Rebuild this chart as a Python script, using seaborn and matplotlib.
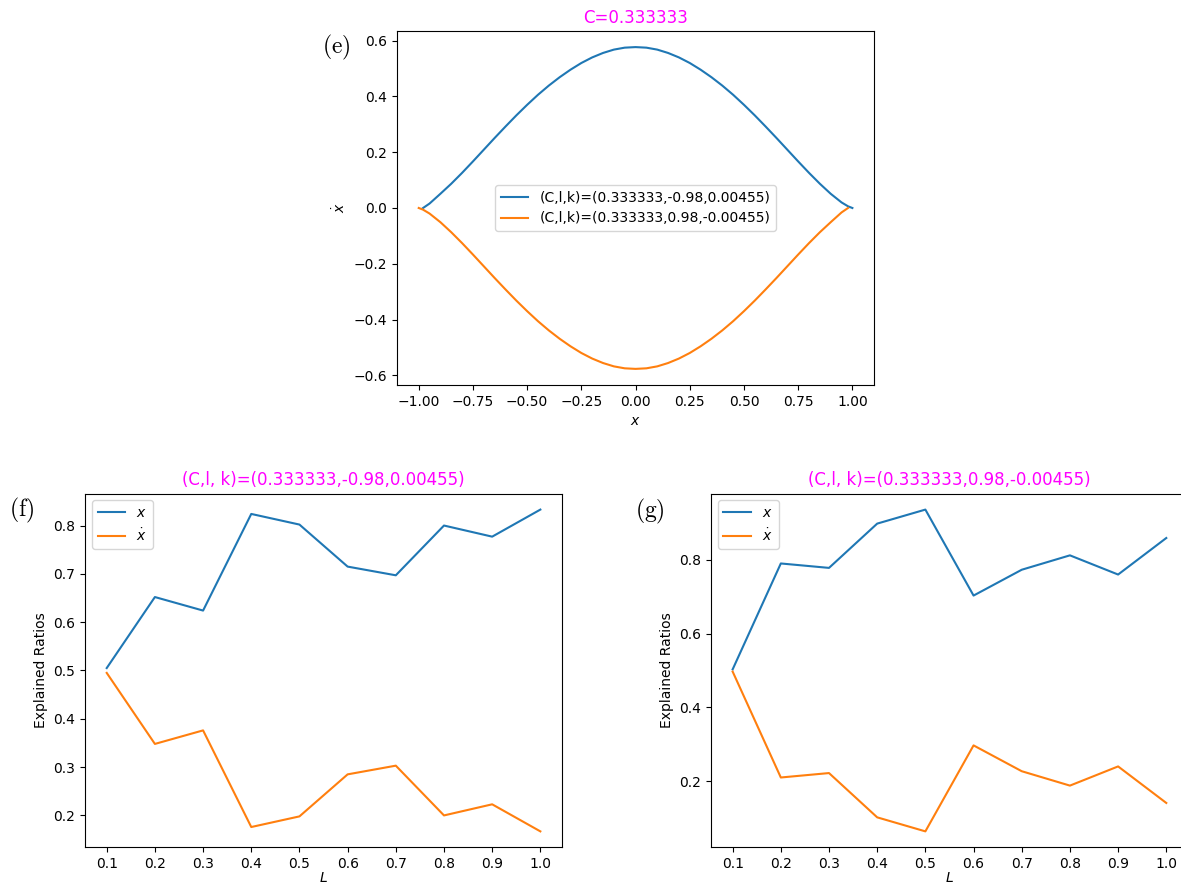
import matplotlib
matplotlib.use("Agg")
import matplotlib.pyplot as plt
import seaborn as sns

# ---- panel (e): phase curves ----
blue_x = [-0.98, -0.95, -0.90, -0.85, -0.80, -0.75, -0.70, -0.65, -0.60, -0.55,
          -0.50, -0.45, -0.40, -0.35, -0.30, -0.25, -0.20, -0.15, -0.10, -0.05,
          0.00, 0.05, 0.10, 0.15, 0.20, 0.25, 0.30, 0.35, 0.40, 0.45,
          0.50, 0.55, 0.60, 0.65, 0.70, 0.75, 0.80, 0.85, 0.90, 0.95, 0.98, 1.00]
blue_y = [0.000, 0.016, 0.051, 0.087, 0.126, 0.167, 0.209, 0.251, 0.292, 0.332,
          0.370, 0.406, 0.439, 0.469, 0.496, 0.520, 0.540, 0.556, 0.568, 0.575,
          0.577, 0.575, 0.568, 0.556, 0.540, 0.520, 0.496, 0.469, 0.439, 0.406,
          0.370, 0.332, 0.292, 0.251, 0.209, 0.167, 0.126, 0.087, 0.051, 0.020, 0.006, 0.000]

orange_x = [-1.00, -0.98, -0.95, -0.90, -0.85, -0.80, -0.75, -0.70, -0.65, -0.60,
            -0.55, -0.50, -0.45, -0.40, -0.35, -0.30, -0.25, -0.20, -0.15, -0.10,
            -0.05, 0.00, 0.05, 0.10, 0.15, 0.20, 0.25, 0.30, 0.35, 0.40,
            0.45, 0.50, 0.55, 0.60, 0.65, 0.70, 0.75, 0.80, 0.85, 0.90, 0.95, 0.98]
orange_y = [0.000, -0.006, -0.020, -0.051, -0.087, -0.126, -0.167, -0.209, -0.251, -0.292,
            -0.332, -0.370, -0.406, -0.439, -0.469, -0.496, -0.520, -0.540, -0.556, -0.568,
            -0.575, -0.577, -0.575, -0.568, -0.556, -0.540, -0.520, -0.496, -0.469, -0.439,
            -0.406, -0.370, -0.332, -0.292, -0.251, -0.209, -0.167, -0.126, -0.087, -0.051, -0.016, 0.000]

# ---- panels (f) and (g): explained ratios vs L ----
L = [0.1, 0.2, 0.3, 0.4, 0.5, 0.6, 0.7, 0.8, 0.9, 1.0]
f_x = [0.505, 0.652, 0.624, 0.824, 0.802, 0.715, 0.697, 0.800, 0.777, 0.833]
f_xdot = [0.495, 0.348, 0.376, 0.176, 0.198, 0.285, 0.303, 0.200, 0.223, 0.167]
g_x = [0.503, 0.790, 0.778, 0.898, 0.936, 0.703, 0.773, 0.812, 0.760, 0.859]
g_xdot = [0.497, 0.210, 0.222, 0.102, 0.064, 0.297, 0.227, 0.188, 0.240, 0.141]

blue = "#1f77b4"
orange = "#ff7f0e"

fig = plt.figure(figsize=(11.81, 8.86), dpi=100)
ax_e = fig.add_axes([0.3362, 0.5655, 0.4039, 0.3995])
ax_f = fig.add_axes([0.0720, 0.0435, 0.4039, 0.3995])
ax_g = fig.add_axes([0.6020, 0.0435, 0.4039, 0.3995])

sns.lineplot(x=blue_x, y=blue_y, ax=ax_e, color=blue, sort=False,
             label="(C,l,k)=(0.333333,-0.98,0.00455)")
sns.lineplot(x=orange_x, y=orange_y, ax=ax_e, color=orange, sort=False,
             label="(C,l,k)=(0.333333,0.98,-0.00455)")
ax_e.legend(loc="center")
ax_e.set_title("C=0.333333", color="magenta")
ax_e.set_xlabel("$x$")
ax_e.set_ylabel(r"$\dot{x}$")

for ax, xs, xds, title in [
    (ax_f, f_x, f_xdot, "(C,l, k)=(0.333333,-0.98,0.00455)"),
    (ax_g, g_x, g_xdot, "(C,l, k)=(0.333333,0.98,-0.00455)"),
]:
    sns.lineplot(x=L, y=xs, ax=ax, color=blue, label="$x$")
    sns.lineplot(x=L, y=xds, ax=ax, color=orange, label=r"$\dot{x}$")
    ax.legend(loc="upper left")
    ax.set_xticks(L)
    ax.set_title(title, color="magenta")
    ax.set_xlabel("$L$", labelpad=0)
    ax.set_ylabel("Explained Ratios")

# panel tags
for tag, px, py in [("e", 0.2845, 0.947), ("f", 0.0186, 0.4244), ("g", 0.5504, 0.4233)]:
    fig.text(px, py, r"$\mathrm{(" + tag + r")}$", fontsize=17, math_fontfamily="cm",
             ha="center", va="center")

fig.savefig("out.png", dpi=100)
